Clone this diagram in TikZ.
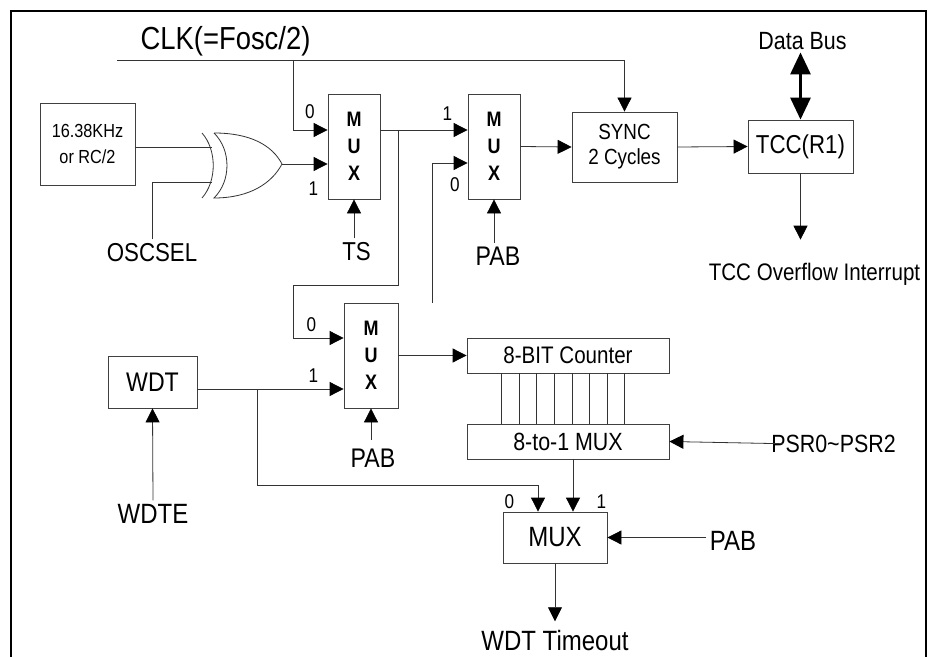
\documentclass[tikz,border=0pt]{standalone}
\usepackage{fontspec}
\setmainfont{Liberation Sans}[FakeStretch=0.86]
\usetikzlibrary{positioning,arrows.meta,calc}
\newcommand\fsz[1]{\fontsize{#1}{#1}\selectfont}
\tikzstyle{blk}=[rectangle, draw=black!75, line width=0.8bp, inner sep=0pt, align=center]
\tikzstyle{muxbox}=[blk, minimum width=52bp, minimum height=105bp, font=\fontsize{21}{27}\selectfont\bfseries]
\tikzstyle{wire}=[draw=black!80, line width=0.8bp]
\tikzstyle{lbl}=[anchor=base]
\tikzstyle{digit}=[inner sep=0pt, font=\fsz{20}]

\begin{document}
\begin{tikzpicture}[x=1bp, y=-1bp, >={Triangle[length=14bp,width=14bp,color=black]}]

    \useasboundingbox (0,0) rectangle (933,657);
    \draw[line width=1.6bp] (11,657) -- (11,11) -- (926,11) -- (926,657);

% clock source and selection
    \node (clkl) [lbl, font=\fsz{32}] at (225.5,50) {CLK(=Fosc/2)};
    \coordinate (clk) at (117,60);
    \coordinate (clkb) at (293,60);
    \node (osc) [blk, minimum width=95bp, minimum height=82bp, font=\fontsize{19}{27}\selectfont] at (87.5,144) {16.38KHz\\or RC/2};
    \node (oscsel) [lbl, font=\fsz{26}] at (152,261) {OSCSEL};

% xor gate
    \draw[wire] (202,133) .. controls (217,150) and (217,181) .. (202,198);
    \draw[wire] (214,133) .. controls (231.3,150) and (231.3,181) .. (214,198)
        .. controls (250,198) and (272,183) .. (282,164)
        .. controls (272,145) and (250,133) .. (214,133);
    \coordinate (xorin1) at (212,147);
    \coordinate (xorin2) at (212,182);
    \coordinate (xorout) at (282,164);

% top row
    \node (mux1) [muxbox] at (354,146.5) {M\\U\\X};
    \node (mux2) [muxbox] at (494,146.5) {M\\U\\X};
    \node (sync) [blk, minimum width=105bp, minimum height=70bp, font=\fontsize{22}{25}\selectfont] at (624.5,147) {SYNC\\2 Cycles};
    \node (tcc) [blk, minimum width=105bp, minimum height=53bp, font=\fsz{26}] at (800.5,146.5) {TCC(R1)};
    \node (dbus) [lbl, inner sep=2bp, font=\fsz{25}] at (802.5,50) {Data Bus};
    \node (ovf) [lbl, font=\fsz{24}] at (814.5,280) {TCC Overflow Interrupt};
    \node (ts) [lbl, font=\fsz{26}] at (356.5,260) {TS};
    \node (pab1) [lbl, font=\fsz{27}] at (498,265) {PAB};

% watchdog part
    \node (wdt) [blk, minimum width=89bp, minimum height=52bp, font=\fsz{27}] at (152.5,382) {WDT};
    \node (wdte) [lbl, font=\fsz{28}] at (153,523) {WDTE};
    \node (mux3) [muxbox, minimum width=54bp] at (371,355.5) {M\\U\\X};
    \node (pab2) [lbl, font=\fsz{27}] at (373,467) {PAB};
    \node (cnt) [blk, minimum width=202bp, minimum height=35bp, font=\fsz{24}] at (568,355.5) {8-BIT Counter};
    \node (mux8) [blk, minimum width=202bp, minimum height=35bp, font=\fsz{25}] at (568,441.5) {8-to-1 MUX};
    \node (psr) [lbl, font=\fsz{25}] at (833.5,452) {PSR0\textasciitilde PSR2};
    \node (fmux) [blk, minimum width=104bp, minimum height=51bp, font=\fsz{28}] at (555,537.5) {MUX};
    \node (pab3) [lbl, font=\fsz{28}] at (733,550) {PAB};
    \node (wdto) [lbl, font=\fsz{28}] at (555,650) {WDT Timeout};

% input numbers
    \node (d1a) [digit] at (310,111.5) {0};
    \node (d1b) [digit] at (313.5,188.5) {1};
    \node (d2a) [digit] at (447.5,113.5) {1};
    \node (d2b) [digit] at (455,185) {0};
    \node (d3a) [digit] at (311.5,324.5) {0};
    \node (d3b) [digit] at (313.5,375.5) {1};
    \node (d4a) [digit] at (509.5,502) {0};
    \node (d4b) [digit] at (601.5,502) {1};

% lines
   \draw[wire,->] (clk) -| (sync.north);
   \draw[wire,->] (clkb) |- ($(mux1.west)+(0,-16.5)$);
   \draw[wire] (osc.east |- xorin1) -- (xorin1);
   \draw[wire] (oscsel.north) |- (xorin2);
   \draw[wire,->] (xorout) -- (mux1.west |- xorout);
   \draw[wire,->] (mux1.south |- ts.north) -- (mux1.south);

   \coordinate (tap1) at (398,130);
   \draw[wire,->] ($(mux1.east)+(0,-16.5)$) -- ($(mux2.west)+(0,-16.5)$);
   \draw[wire,->] (tap1) -- ++(0,155) -- ++(-105,0) |- ($(mux3.west)+(0,-17.5)$);
   \coordinate (dangle) at (432,303);
   \draw[wire,->] (dangle) |- ($(mux2.west)+(0,16.5)$);
   \draw[wire,->] (mux2.south |- pab1.north) -- (mux2.south);
   \draw[wire,->] (mux2.east) -- (sync.west);
   \draw[wire,->] (sync.east) -- (tcc.west);
   \draw[line width=3bp, {Triangle[length=22bp,width=20bp]}-{Triangle[length=22bp,width=20bp]}] (tcc.north |- dbus.south) -- (tcc.north);
   \draw[wire,->,shorten >=19.5bp] (tcc.south) -- (tcc.south |- ovf.north);

%wdt lines
   \coordinate (mux3in1) at ($(mux3.west)+(0,33.5)$);
   \coordinate (tap2) at (257,389);
   \draw[wire,->] (wdte.north) -- (wdt.south);
   \draw[wire,->] (wdt.east |- mux3in1) -- (mux3in1);
   \draw[wire,->] (tap2) -- ++(0,96) -| ($(fmux.north)+(-17,0)$);
   \draw[wire,->,shorten <=5bp] (mux3.south |- pab2.north) -- (mux3.south);
   \draw[wire,->] (mux3.east) -- (cnt.west);
   \foreach \i in {0,...,7}
      \draw[wire] ($(cnt.south west)+(35+17.6*\i,0)$) -- ($(mux8.north west)+(35+17.6*\i,0)$);
   \draw[wire,->] ($(mux8.south)+(5,0)$) -- ($(fmux.north)+(18,0)$);
   \draw[wire,->,shorten <=-15bp] (psr.west) -- (mux8.east);
   \draw[wire,->] (pab3.west |- fmux.east) -- (fmux.east);
   \draw[wire,->,shorten >=5bp] (fmux.south) -- (fmux.south |- wdto.north);

\end{tikzpicture}
\end{document}
